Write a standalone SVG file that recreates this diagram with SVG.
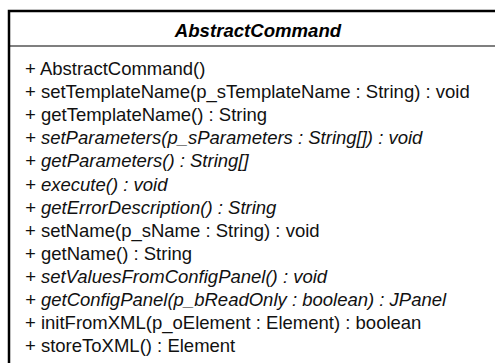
<svg xmlns="http://www.w3.org/2000/svg" width="495" height="363" viewBox="0 0 495 363">
  <style>
    .title { font-family: "Liberation Sans", Arial, sans-serif; font-size: 18.6px; font-weight: bold; font-style: italic; fill: #000; }
    .op { font-family: "Liberation Sans", Arial, sans-serif; font-size: 18.5px; fill: #111; }
    .abstract { font-style: italic; }
  </style>
  <rect width="495" height="363" fill="#fff"/>
  <g id="AbstractCommand">
    <!-- class box, open at right and bottom -->
    <path d="M9 363 V11 H495" fill="none" stroke="#000" stroke-width="2.5"/>
    <line x1="10" y1="46" x2="495" y2="46" stroke="#000" stroke-width="1.2"/>
    <text class="title" x="258" y="37" text-anchor="middle">AbstractCommand</text>
    <!-- operations compartment -->
    <g class="ops">
      <text class="op" x="25" y="75">+ AbstractCommand()</text>
      <text class="op" x="25" y="98.1">+ setTemplateName(p_sTemplateName : String) : void</text>
      <text class="op" x="25" y="121.2">+ getTemplateName() : String</text>
      <text class="op abstract" x="25" y="144.3">+ setParameters(p_sParameters : String[]) : void</text>
      <text class="op abstract" x="25" y="167.4">+ getParameters() : String[]</text>
      <text class="op abstract" x="25" y="190.5">+ execute() : void</text>
      <text class="op abstract" x="25" y="213.6">+ getErrorDescription() : String</text>
      <text class="op" x="25" y="236.7">+ setName(p_sName : String) : void</text>
      <text class="op" x="25" y="259.8">+ getName() : String</text>
      <text class="op abstract" x="25" y="282.9">+ setValuesFromConfigPanel() : void</text>
      <text class="op abstract" x="25" y="306">+ getConfigPanel(p_bReadOnly : boolean) : JPanel</text>
      <text class="op" x="25" y="329.1">+ initFromXML(p_oElement : Element) : boolean</text>
      <text class="op" x="25" y="352.2">+ storeToXML() : Element</text>
    </g>
  </g>
</svg>
